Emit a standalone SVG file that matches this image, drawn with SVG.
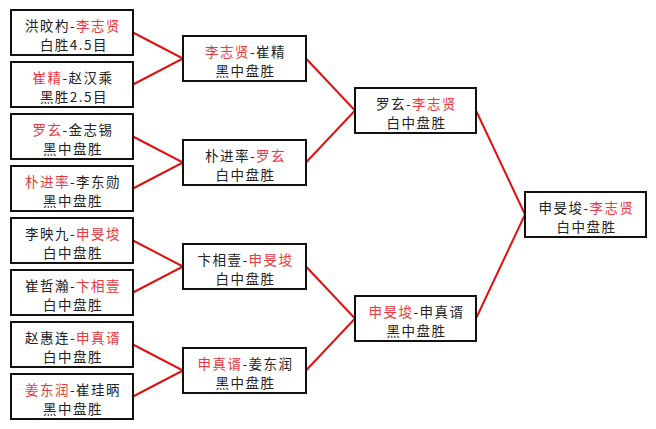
<svg xmlns="http://www.w3.org/2000/svg" width="656" height="429" viewBox="0 0 656 429">
<style>
.box{fill:#fff;stroke:#111;stroke-width:2}
.t{font-family:"Noto Sans CJK SC","Noto Sans CJK JP",sans-serif;font-size:13.5px;letter-spacing:1.5px;fill:#222;text-anchor:middle}
.r{fill:#e8383d}
.c{stroke:#e01010;stroke-width:2;fill:none}
</style>
<rect width="656" height="429" fill="#fff"/>
<g id="connectors">
<path class="c" d="M133 32.5L183 58.5L133 84.5"/>
<path class="c" d="M133 136.5L183 162.5L133 188.5"/>
<path class="c" d="M133 240.5L183 266.5L133 292.5"/>
<path class="c" d="M133 344.5L183 370.5L133 396.5"/>
<path class="c" d="M306 58.5L355 110.5L306 162.5"/>
<path class="c" d="M306 266.5L355 318.5L306 370.5"/>
<path class="c" d="M476 110.5L525 214.5L476 318.5"/>
</g>
<g id="n1"><rect class="box" x="11" y="10" width="122" height="45"/><text class="t" x="73" y="30.5">洪旼杓-<tspan class="r">李志贤</tspan></text><text class="t" x="74" y="50">白胜4.5目</text></g>
<g id="n2"><rect class="box" x="11" y="62" width="122" height="45"/><text class="t" x="73" y="82.5"><tspan class="r">崔精</tspan>-赵汉乘</text><text class="t" x="74" y="102">黑胜2.5目</text></g>
<g id="n3"><rect class="box" x="11" y="114" width="122" height="45"/><text class="t" x="73" y="134.5"><tspan class="r">罗玄</tspan>-金志锡</text><text class="t" x="73" y="154">黑中盘胜</text></g>
<g id="n4"><rect class="box" x="11" y="166" width="122" height="45"/><text class="t" x="73" y="186.5"><tspan class="r">朴进率</tspan>-李东勋</text><text class="t" x="73" y="206">黑中盘胜</text></g>
<g id="n5"><rect class="box" x="11" y="218" width="122" height="45"/><text class="t" x="73" y="238.5">李映九-<tspan class="r">申旻埈</tspan></text><text class="t" x="73" y="258">白中盘胜</text></g>
<g id="n6"><rect class="box" x="11" y="270" width="122" height="45"/><text class="t" x="73" y="290.5">崔哲瀚-<tspan class="r">卞相壹</tspan></text><text class="t" x="73" y="310">白中盘胜</text></g>
<g id="n7"><rect class="box" x="11" y="322" width="122" height="45"/><text class="t" x="73" y="342.5">赵惠连-<tspan class="r">申真谞</tspan></text><text class="t" x="73" y="362">白中盘胜</text></g>
<g id="n8"><rect class="box" x="11" y="374" width="122" height="45"/><text class="t" x="73" y="394.5"><tspan class="r">姜东润</tspan>-崔珪昞</text><text class="t" x="73" y="414">黑中盘胜</text></g>
<g id="s1"><rect class="box" x="183" y="36" width="123" height="45"/><text class="t" x="245.5" y="56.5"><tspan class="r">李志贤</tspan>-崔精</text><text class="t" x="245.5" y="76">黑中盘胜</text></g>
<g id="s2"><rect class="box" x="183" y="140" width="123" height="45"/><text class="t" x="245.5" y="160.5">朴进率-<tspan class="r">罗玄</tspan></text><text class="t" x="245.5" y="180">白中盘胜</text></g>
<g id="s3"><rect class="box" x="183" y="244" width="123" height="45"/><text class="t" x="245.5" y="264.5">卞相壹-<tspan class="r">申旻埈</tspan></text><text class="t" x="245.5" y="284">白中盘胜</text></g>
<g id="s4"><rect class="box" x="183" y="348" width="123" height="45"/><text class="t" x="245.5" y="368.5"><tspan class="r">申真谞</tspan>-姜东润</text><text class="t" x="245.5" y="388">黑中盘胜</text></g>
<g id="f1"><rect class="box" x="355" y="88" width="121" height="45"/><text class="t" x="416.5" y="108.5">罗玄-<tspan class="r">李志贤</tspan></text><text class="t" x="416.5" y="128">白中盘胜</text></g>
<g id="f2"><rect class="box" x="355" y="296" width="121" height="45"/><text class="t" x="416.5" y="316.5"><tspan class="r">申旻埈</tspan>-申真谞</text><text class="t" x="416.5" y="336">黑中盘胜</text></g>
<g id="final"><rect class="box" x="525" y="192" width="121" height="45"/><text class="t" x="586.5" y="212.5">申旻埈-<tspan class="r">李志贤</tspan></text><text class="t" x="586.5" y="232">白中盘胜</text></g>
</svg>
